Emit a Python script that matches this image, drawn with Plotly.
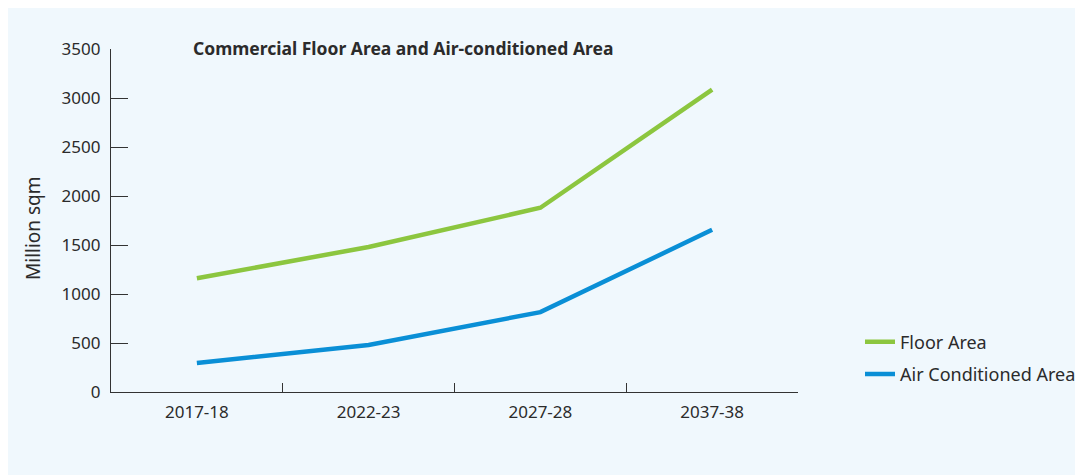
import plotly.graph_objects as go

categories = ["2017-18", "2022-23", "2027-28", "2037-38"]
floor_area = [1160, 1480, 1880, 3085]
ac_area = [295, 480, 815, 1655]
y_ticks = [0, 500, 1000, 1500, 2000, 2500, 3000, 3500]

FONT = "Noto Sans"
TXT = "#2b2b2b"
BG = "#f0f8fd"

fig = go.Figure()
fig.add_trace(go.Scatter(x=categories, y=floor_area, mode="lines", name="Floor Area",
                         legendgroup="a",
                         line=dict(color="#8cc63f", width=4.5)))
fig.add_trace(go.Scatter(x=categories, y=ac_area, mode="lines", name="Air Conditioned Area",
                         legendgroup="b",
                         line=dict(color="#0a8fd6", width=4.5)))

# figure sits at (8, 8) in the page because of the body margin
W, H = 1075, 467
L, T = 103, 41
pw, ph = 687, 343
R, B = W - L - pw, H - T - ph

def px(x):
    return (x - 8 - L) / pw

def py(y):
    return (T + ph - (y - 8)) / ph

fig.update_layout(
    width=W, height=H,
    margin=dict(l=L, r=R, t=T, b=B, autoexpand=False),
    paper_bgcolor=BG,
    plot_bgcolor=BG,
    font=dict(family=FONT, size=17, color=TXT),
    showlegend=True,
    legend=dict(xref="container", yref="container",
                x=(860 - 8) / W, y=(H - (358 - 8)) / H,
                xanchor="left", yanchor="middle",
                font=dict(size=18, color=TXT), bgcolor="rgba(0,0,0,0)",
                tracegroupgap=6),
    xaxis=dict(type="category", range=[-0.5, 3.5], showline=True, linecolor="#333",
               linewidth=1.4, ticks="inside", ticklen=9, tickcolor="#333",
               tickson="boundaries", showgrid=False, zeroline=False,
               ticklabelstandoff=4,
               tickfont=dict(size=17, color=TXT)),
    yaxis=dict(range=[0, 3500], tickvals=y_ticks, showline=True, linecolor="#333",
               linewidth=1.4, ticks="inside", ticklen=17, tickcolor="#333",
               showgrid=False, zeroline=False, ticklabelstandoff=6,
               tickfont=dict(size=17, color=TXT)),
    annotations=[
        dict(text="<b>Commercial Floor Area and Air-conditioned Area</b>",
             xref="paper", yref="paper", x=px(191), y=py(48),
             xanchor="left", yanchor="middle", showarrow=False,
             font=dict(size=17.5, color=TXT)),
        dict(text="Million sqm", xref="paper", yref="paper", x=px(33), y=py(228),
             xanchor="center", yanchor="middle", textangle=-90, showarrow=False,
             font=dict(size=19, color=TXT)),
    ],
)

fig.write_html("out.html")
